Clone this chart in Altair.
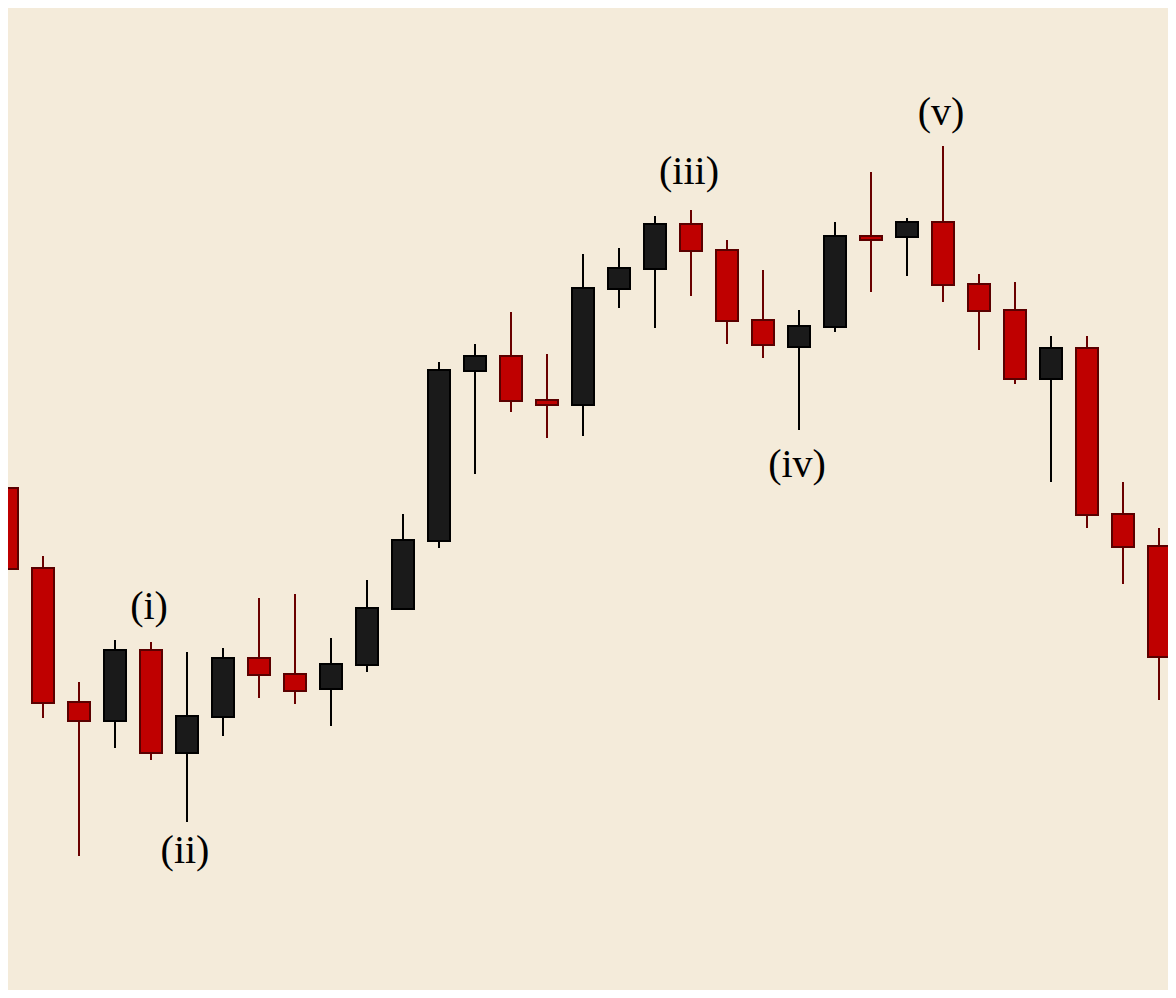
import altair as alt
import pandas as pd

# Candle data (arbitrary price units)
opens  = [51.2, 43.2, 29.8, 27.9, 35.0, 24.7, 28.3, 34.2, 32.6, 31.1, 33.5,
          39.1, 45.9, 62.9, 64.4, 60.0, 59.5, 71.1, 73.1, 77.6, 75.0, 68.0,
          65.3, 67.3, 76.4, 76.3, 77.8, 71.6, 69.0, 62.1, 65.2, 48.6, 45.4]
highs  = [52.0, 44.4, 31.8, 36.0, 35.8, 34.8, 35.2, 40.2, 40.6, 36.2, 42.0,
          48.6, 63.8, 65.6, 68.8, 64.6, 74.6, 75.2, 78.4, 79.0, 76.0, 73.0,
          69.0, 77.8, 82.8, 78.2, 85.4, 72.6, 71.8, 66.4, 66.4, 51.8, 47.2]
lows   = [39.4, 28.2, 14.4, 25.2, 24.0, 17.8, 26.4, 30.2, 29.6, 27.4, 32.8,
          39.1, 45.2, 52.6, 58.8, 56.2, 56.4, 69.2, 67.2, 70.4, 65.6, 64.2,
          57.0, 66.8, 70.8, 72.4, 69.8, 65.0, 61.6, 51.8, 47.2, 41.6, 30.0]
closes = [43.1, 29.7, 27.9, 35.0, 24.7, 28.4, 34.2, 32.5, 30.9, 33.6, 39.2,
          46.0, 63.0, 64.4, 59.9, 59.5, 71.2, 73.2, 77.6, 74.9, 67.9, 65.5,
          67.4, 76.4, 76.0, 77.8, 71.5, 68.9, 62.1, 65.2, 48.5, 45.3, 34.3]

# Wave labels
label_text  = ["(i)", "(ii)", "(iii)", "(iv)", "(v)"]
label_index = [4, 5, 19, 22, 26]
label_price = [38.1, 13.7, 81.6, 52.3, 87.5]

n = len(opens)
df = pd.DataFrame({
    "i": list(range(n)),
    "open": opens, "high": highs, "low": lows, "close": closes,
})
df["dir"] = ["up" if c >= o else "down" for o, c in zip(opens, closes)]

labels = pd.DataFrame({"i": label_index, "price": label_price, "text": label_text})

W, H = 1160, 982
xscale = alt.Scale(domain=[1 / 36, 1161 / 36], nice=False, zero=False, padding=0)
yscale = alt.Scale(domain=[1.0, 99.2], nice=False, zero=False, padding=0)

color_body = alt.Scale(domain=["up", "down"], range=["#1a1a1a", "#bf0000"])
color_edge = alt.Scale(domain=["up", "down"], range=["#000000", "#5a0000"])
color_wick = alt.Scale(domain=["up", "down"], range=["#000000", "#6a0000"])

base = alt.Chart(df)

wicks = base.mark_rule(strokeWidth=2, clip=True).encode(
    x=alt.X("i:Q", scale=xscale, axis=None),
    y=alt.Y("low:Q", scale=yscale, axis=None),
    y2="high:Q",
    color=alt.Color("dir:N", scale=color_wick, legend=None),
)

bodies = base.mark_bar(size=22, strokeWidth=2, clip=True).encode(
    x=alt.X("i:Q", scale=xscale, axis=None),
    y=alt.Y("open:Q", scale=yscale, axis=None),
    y2="close:Q",
    fill=alt.Fill("dir:N", scale=color_body, legend=None),
    stroke=alt.Stroke("dir:N", scale=color_edge, legend=None),
)

texts = alt.Chart(labels).mark_text(
    font="Liberation Serif", fontSize=40, color="#000000",
    align="center", baseline="alphabetic", dx=-2,
).encode(
    x=alt.X("i:Q", scale=xscale, axis=None),
    y=alt.Y("price:Q", scale=yscale, axis=None),
    text="text:N",
)

chart = alt.layer(wicks, bodies, texts).properties(
    width=W, height=H, padding=0, autosize=alt.AutoSizeParams(type="none"),
    background="#f4ebda",
).configure_view(stroke=None)

chart.save("out.html", embed_options={"renderer": "svg", "actions": False})
